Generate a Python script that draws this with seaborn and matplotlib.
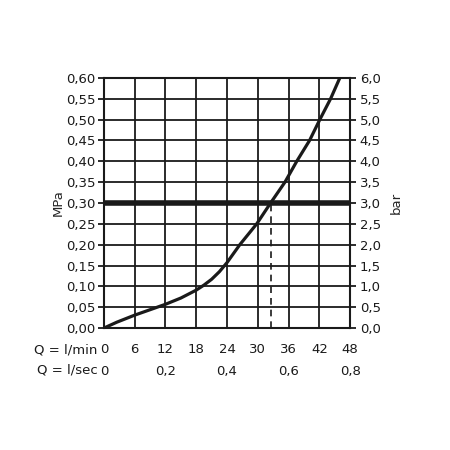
import pandas as pd
import seaborn as sns
import matplotlib.pyplot as plt
from matplotlib.ticker import FuncFormatter, MultipleLocator

# flow rate [l/min] and pressure loss [MPa]
flow_lmin = [0, 2.5, 6, 9, 12, 15, 18, 19.5, 21, 22.5, 24, 26.5, 29.8, 32.5, 35.3, 37.6, 40.1, 42.1, 44.2, 46]
pressure_mpa = [0, 0.014, 0.031, 0.044, 0.057, 0.072, 0.091, 0.103, 0.117, 0.135, 0.157, 0.20,
                0.25, 0.30, 0.35, 0.40, 0.45, 0.50, 0.55, 0.60]

limit_mpa = 0.30
limit_flow = 32.5

lsec_ticks = [0, 0.2, 0.4, 0.6, 0.8]

ink = '#1a1a1a'

sns.set_style('white')
plt.rcParams['font.family'] = ['DejaVu Sans']
plt.rcParams['font.size'] = 9.5


def comma(fmt):
    return FuncFormatter(lambda v, _: fmt.format(v).replace('.', ','))


df = pd.DataFrame({'flow': flow_lmin, 'pressure': pressure_mpa})

fig = plt.figure(figsize=(4.5, 4.5), dpi=100)
ax = fig.add_axes([0.231, 0.271, 0.547, 0.556])

sns.lineplot(data=df, x='flow', y='pressure', color=ink, linewidth=2.3, ax=ax, zorder=4)
ax.axhline(limit_mpa, color=ink, linewidth=4, zorder=5)
ax.plot([limit_flow, limit_flow], [0, limit_mpa], color=ink, linestyle=(0, (4, 3)),
        linewidth=1.2, zorder=3)

ax.set(xlim=(0, 48), ylim=(0, 0.6), xlabel='', ylabel='MPa')
ax.xaxis.set_major_locator(MultipleLocator(6))
ax.yaxis.set_major_locator(MultipleLocator(0.05))
ax.yaxis.set_major_formatter(comma('{:.2f}'))
ax.xaxis.set_major_formatter(FuncFormatter(lambda v, _: f'{v:.0f}'))
ax.grid(True, color=ink, linewidth=1.3)
for s in ax.spines.values():
    s.set_color(ink)
    s.set_linewidth(1.5)
ax.tick_params(axis='both', direction='out', length=4, width=1.3, color=ink,
               labelcolor=ink, pad=2)
ax.tick_params(axis='x', length=4, pad=7)
ax.yaxis.labelpad = 1

ax2 = ax.twinx()
ax2.set_ylim(0, 6)
ax2.yaxis.set_major_locator(MultipleLocator(0.5))
ax2.yaxis.set_major_formatter(comma('{:.1f}'))
ax2.set_ylabel('bar', labelpad=6)
ax2.tick_params(axis='y', direction='out', length=4, width=1.3, color=ink,
                labelcolor=ink, pad=3)
for s in ax2.spines.values():
    s.set_visible(False)

sec = ax.secondary_xaxis(-0.146, functions=(lambda q: q / 60, lambda q: q * 60))
sec.set_xticks(lsec_ticks)
sec.xaxis.set_major_formatter(FuncFormatter(lambda v, _: '0' if v == 0 else f'{v:.1f}'.replace('.', ',')))
sec.tick_params(length=0, labelcolor=ink, pad=0)
sec.spines['bottom'].set_visible(False)

ax.text(-0.025, -0.088, 'Q = l/min', transform=ax.transAxes, ha='right', va='center', color=ink)
ax.text(-0.025, -0.168, 'Q = l/sec', transform=ax.transAxes, ha='right', va='center', color=ink)

fig.savefig('out.png', dpi=100)
